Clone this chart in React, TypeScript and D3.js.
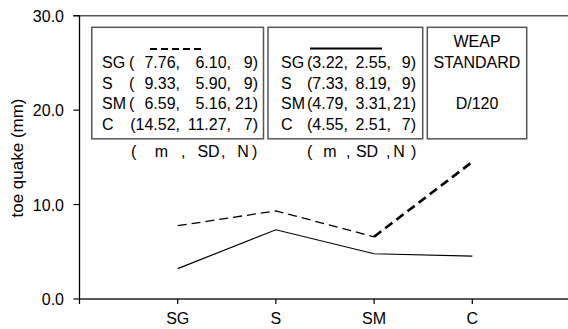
import React from "react";
import * as d3 from "d3";

const categories = ["SG", "S", "SM", "C"];
const dashedMeans = [7.76, 9.33, 6.59, 14.52];
const dashedSD = [6.10, 5.90, 5.16, 11.27];
const dashedN = [9, 9, 21, 7];
const solidMeans = [3.22, 7.33, 4.79, 4.55];
const solidSD = [2.55, 8.19, 3.31, 2.51];
const solidN = [9, 9, 21, 7];
const yTicks = [0, 10, 20, 30];
const weapLines = ["WEAP", "STANDARD", "", "D/120"];
const yTitle = "toe quake (mm)";

const FONT = "'Liberation Sans', Arial, sans-serif";

export default function App() {
  const x = d3.scaleLinear().domain([0, 4]).range([79.5, 472.3]);
  const y = d3.scaleLinear().domain([0, 30]).range([299, 15.7]);
  const line = d3
    .line<number>()
    .x((_, i) => x(i + 1))
    .y((d) => y(d));
  const lineFrom = (vals: number[], start: number) =>
    d3
      .line<number>()
      .x((_, i) => x(i + 1 + start))
      .y((d) => y(d))(vals) as string;

  const rowBase = [68, 88.5, 109, 129.5];
  const fs = 16;

  return (
    <svg
      width={568}
      height={329}
      style={{ position: "absolute", left: 0, top: 0, background: "#fff" }}
      fontFamily={FONT}
      fontSize={fs}
    >
      <rect x={0} y={0} width={568} height={329} fill="#fff" />
      {/* top frame line */}
      <line x1={73} x2={568} y1={15.7} y2={15.7} stroke="#555" strokeWidth={1.5} />
      {/* axes */}
      <line x1={79.5} x2={79.5} y1={15.7} y2={299} stroke="#000" strokeWidth={1.3} />
      <line x1={79.5} x2={568} y1={299} y2={299} stroke="#222" strokeWidth={1.5} />
      {yTicks.map((t) => (
        <g key={t}>
          <line x1={73.5} x2={79.5} y1={y(t)} y2={y(t)} stroke="#000" strokeWidth={1.2} />
          <text x={64} y={y(t) + 6} textAnchor="end" fill="#000">
            {t.toFixed(1)}
          </text>
        </g>
      ))}
      <line x1={79.5} x2={79.5} y1={299} y2={304} stroke="#000" strokeWidth={1.2} />
      {categories.map((c, i) => (
        <g key={c}>
          <line x1={x(i + 1)} x2={x(i + 1)} y1={299} y2={304} stroke="#000" strokeWidth={1.2} />
          <text x={x(i + 1)} y={323.5} textAnchor="middle" fill="#000">
            {c}
          </text>
        </g>
      ))}
      <text
        transform={`translate(23,158) rotate(-90)`}
        textAnchor="middle"
        fill="#000"
        fontSize={17}
      >
        {yTitle}
      </text>

      {/* data lines */}
      <path d={line(solidMeans) as string} fill="none" stroke="#000" strokeWidth={1.2} />
      <path
        d={lineFrom(dashedMeans.slice(0, 3), 0)}
        fill="none"
        stroke="#000"
        strokeWidth={1.3}
        strokeDasharray="9,5"
      />
      <path
        d={lineFrom(dashedMeans.slice(2), 2)}
        fill="none"
        stroke="#000"
        strokeWidth={2.6}
        strokeDasharray="9,5"
      />

      {/* legend boxes */}
      <rect x={91.8} y={27.3} width={171.7} height={111.5} fill="#fff" stroke="#555" strokeWidth={1.5} />
      <rect x={268} y={27.3} width={154.7} height={111.5} fill="#fff" stroke="#555" strokeWidth={1.5} />
      <rect x={427.3} y={27.3} width={99.4} height={111.5} fill="#fff" stroke="#555" strokeWidth={1.5} />

      <line x1={150} x2={204} y1={49} y2={49} stroke="#000" strokeWidth={2.2} strokeDasharray="7,4" />
      <line x1={310} x2={382} y1={48.5} y2={48.5} stroke="#000" strokeWidth={2} />

      {categories.map((c, i) => {
        const first = i === 3;
        return (
          <g key={"l1" + c} fill="#000">
            <text x={102} y={rowBase[i]}>{c}</text>
            {!first && <text x={129} y={rowBase[i]}>(</text>}
            <text x={180} y={rowBase[i]} textAnchor="end">
              {(first ? "(" : "") + dashedMeans[i].toFixed(2) + ","}
            </text>
            <text x={231} y={rowBase[i]} textAnchor="end">
              {dashedSD[i].toFixed(2) + ","}
            </text>
            <text x={258} y={rowBase[i]} textAnchor="end">
              {dashedN[i] + ")"}
            </text>
          </g>
        );
      })}
      {categories.map((c, i) => (
        <g key={"l2" + c} fill="#000">
          <text x={281} y={rowBase[i]}>{c}</text>
          <text x={307} y={rowBase[i]}>{"(" + solidMeans[i].toFixed(2) + ","}</text>
          <text x={391} y={rowBase[i]} textAnchor="end">
            {solidSD[i].toFixed(2) + ","}
          </text>
          <text x={416} y={rowBase[i]} textAnchor="end">
            {solidN[i] + ")"}
          </text>
        </g>
      ))}
      {weapLines.map((w, i) => (
        <text key={"w" + i} x={477} y={i === 0 ? 47 : rowBase[i - 1]} textAnchor="middle" fill="#000">
          {w}
        </text>
      ))}

      {/* footers */}
      <g fill="#000">
        <text x={131} y={157}>(</text>
        <text x={161.5} y={157} textAnchor="middle">m</text>
        <text x={181} y={157}>,</text>
        <text x={208.5} y={157} textAnchor="middle">SD</text>
        <text x={221} y={157}>,</text>
        <text x={243} y={157} textAnchor="middle">N</text>
        <text x={252} y={157}>)</text>

        <text x={307} y={157}>(</text>
        <text x={330} y={157} textAnchor="middle">m</text>
        <text x={346} y={157}>,</text>
        <text x={367} y={157} textAnchor="middle">SD</text>
        <text x={386} y={157}>,</text>
        <text x={399} y={157} textAnchor="middle">N</text>
        <text x={411} y={157}>)</text>
      </g>
    </svg>
  );
}
